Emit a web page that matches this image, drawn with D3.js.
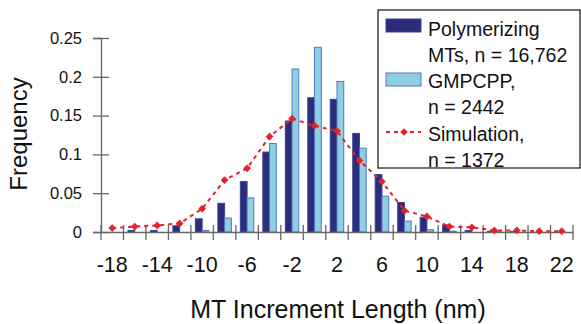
<!DOCTYPE html>
<html>
<head>
<meta charset="utf-8">
<script src="https://cdn.jsdelivr.net/npm/d3@7"></script>
<style>
  body { margin: 0; background: #fff; }
  text { font-family: "Liberation Sans", Arial, sans-serif; fill: #111; }
</style>
</head>
<body>
<div id="chart"></div>
<script>
// Increment length bins (nm)
const categories = [-18, -16, -14, -12, -10, -8, -6, -4, -2, 0, 2, 4, 6, 8, 10, 12, 14, 16, 18, 20, 22];
const xTickLabels = [-18, -14, -10, -6, -2, 2, 6, 10, 14, 18, 22];
const yTicks = [0, 0.05, 0.1, 0.15, 0.2, 0.25];

// Frequencies
const polymerizing = [0, 0.002, 0.002, 0.008, 0.017, 0.037, 0.065, 0.103, 0.143, 0.173, 0.171, 0.127, 0.074, 0.038, 0.019, 0.009, 0.002, 0.001, 0.0005, 0, 0];
const gmpcpp = [0, 0, 0, 0, 0.002, 0.018, 0.044, 0.114, 0.210, 0.238, 0.194, 0.108, 0.046, 0.014, 0.003, 0.001, 0, 0.001, 0, 0, 0];
const simulation = [0.005, 0.007, 0.0085, 0.011, 0.030, 0.067, 0.082, 0.123, 0.146, 0.137, 0.130, 0.092, 0.065, 0.0275, 0.020, 0.007, 0.006, 0.002, 0.002, 0.001, 0.001];

const series = ["Polymerizing", "GMPCPP"];

const width = 581, height = 324;
const plotLeft = 101, plotRight = 573, plotTop = 38, plotBottom = 232;

const svg = d3.select("#chart").append("svg")
    .attr("width", width)
    .attr("height", height);

// Scales
const x = d3.scaleBand()
    .domain(categories)
    .range([plotLeft, plotRight])
    .padding(0);

const x1 = d3.scaleBand()
    .domain(series)
    .range([x.bandwidth() * 0.2, x.bandwidth() * 0.8]);

const y = d3.scaleLinear()
    .domain([0, 0.25])
    .range([plotBottom, plotTop]);

const fill = d3.scaleOrdinal().domain(series).range(["#2b2d7c", "#8cd0e2"]);
const stroke = d3.scaleOrdinal().domain(series).range(["#3d4296", "#5b72c8"]);

// Bars
const barData = [];
categories.forEach((c, i) => {
    barData.push({ cat: c, s: "Polymerizing", v: polymerizing[i] });
    barData.push({ cat: c, s: "GMPCPP", v: gmpcpp[i] });
});

svg.append("g")
    .selectAll("rect")
    .data(barData.filter(d => d.v > 0))
    .enter()
    .append("rect")
    .attr("x", d => x(d.cat) + x1(d.s))
    .attr("y", d => y(d.v))
    .attr("width", x1.bandwidth())
    .attr("height", d => plotBottom - y(d.v))
    .attr("fill", d => fill(d.s))
    .attr("stroke", d => stroke(d.s))
    .attr("stroke-width", 1);

// Y axis
const yAxis = svg.append("g")
    .attr("transform", `translate(${plotLeft},0)`)
    .call(d3.axisLeft(y).tickValues(yTicks).tickSize(8).tickPadding(11)
        .tickFormat(d => d === 0 ? "0" : String(d)));
yAxis.select(".domain").attr("stroke", "#666").attr("stroke-width", 1.3);
yAxis.selectAll(".tick line").attr("x2", -8).attr("x1", 8).attr("stroke", "#666").attr("stroke-width", 1.3);
yAxis.selectAll(".tick text").style("font-size", "16.5px").attr("fill", "#111")
    .style("font-family", "'Liberation Sans', Arial, sans-serif");

// X axis (labels centred on bins, ticks on bin edges)
const xAxis = svg.append("g")
    .attr("transform", `translate(0,${plotBottom})`)
    .call(d3.axisBottom(x).tickSize(0).tickPadding(25)
        .tickFormat(d => xTickLabels.includes(d) ? String(d) : ""));
xAxis.select(".domain").attr("stroke", "#666").attr("stroke-width", 1.3);
xAxis.selectAll(".tick text").style("font-size", "21.5px").attr("fill", "#111")
    .style("font-family", "'Liberation Sans', Arial, sans-serif");

const edges = categories.map(c => x(c)).concat([x(categories[categories.length - 1]) + x.bandwidth()]);
svg.append("g")
    .selectAll("line")
    .data(edges)
    .enter()
    .append("line")
    .attr("x1", d => d).attr("x2", d => d)
    .attr("y1", plotBottom - 7).attr("y2", plotBottom + 8)
    .attr("stroke", "#666")
    .attr("stroke-width", 1.3);

// Simulation line
const red = "#e2232b";
const line = d3.line()
    .x((d, i) => x(categories[i]) + x.bandwidth() / 2)
    .y(d => y(d));

svg.append("path")
    .datum(simulation)
    .attr("d", line)
    .attr("fill", "none")
    .attr("stroke", red)
    .attr("stroke-width", 2)
    .attr("stroke-dasharray", "4,4");

const marker = d3.symbol().type(d3.symbolSquare).size(30);

svg.append("g")
    .selectAll("path")
    .data(simulation)
    .enter()
    .append("path")
    .attr("d", marker)
    .attr("transform", (d, i) => `translate(${x(categories[i]) + x.bandwidth() / 2},${y(d)}) rotate(45)`)
    .attr("fill", red);

// Axis titles
svg.append("text")
    .attr("transform", "translate(27,134) rotate(-90)")
    .attr("text-anchor", "middle")
    .style("font-size", "24px")
    .text("Frequency");

svg.append("text")
    .attr("x", 338)
    .attr("y", 318)
    .attr("text-anchor", "middle")
    .style("font-size", "25px")
    .text("MT Increment Length (nm)");

// Legend
const legend = svg.append("g");
legend.append("rect")
    .attr("x", 378).attr("y", 10)
    .attr("width", 202).attr("height", 158)
    .attr("fill", "#fff")
    .attr("stroke", "#111")
    .attr("stroke-width", 1.2);

legend.append("rect")
    .attr("x", 386).attr("y", 19).attr("width", 35).attr("height", 13)
    .attr("fill", fill("Polymerizing")).attr("stroke", stroke("Polymerizing"));
legend.append("rect")
    .attr("x", 386).attr("y", 73).attr("width", 35).attr("height", 13)
    .attr("fill", fill("GMPCPP")).attr("stroke", stroke("GMPCPP"));
legend.append("line")
    .attr("x1", 386).attr("x2", 421).attr("y1", 132).attr("y2", 132)
    .attr("stroke", red).attr("stroke-width", 2).attr("stroke-dasharray", "4,4");
legend.append("path")
    .attr("d", marker)
    .attr("transform", "translate(404,132) rotate(45)")
    .attr("fill", red);

const legendLines = ["Polymerizing", "MTs, n = 16,762", "GMPCPP,", "n = 2442", "Simulation,", "n = 1372"];
const legendY = [29, 55, 81, 107, 134, 160];
legend.selectAll("text.lg")
    .data(legendLines)
    .enter()
    .append("text")
    .attr("class", "lg")
    .attr("x", 428)
    .attr("y", (d, i) => legendY[i])
    .attr("dy", "0.35em")
    .style("font-size", "19.5px")
    .text(d => d);
</script>
</body>
</html>
